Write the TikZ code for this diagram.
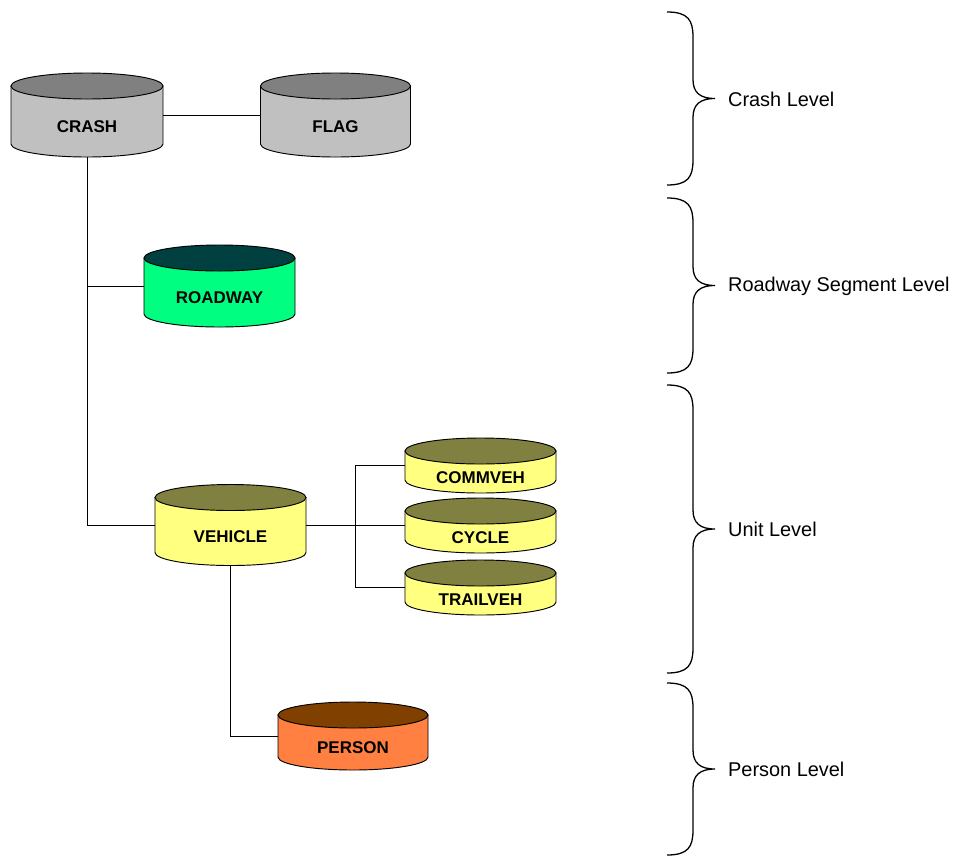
\documentclass[tikz,border=0pt]{standalone}
\usepackage{fontspec}
\setmainfont{Liberation Sans}
\usetikzlibrary{calc}

\definecolor{crashbody}{HTML}{C0C0C0}
\definecolor{crashtop}{HTML}{808080}
\definecolor{roadbody}{HTML}{00FF80}
\definecolor{roadtop}{HTML}{004040}
\definecolor{vehbody}{HTML}{FFFF80}
\definecolor{vehtop}{HTML}{808040}
\definecolor{persbody}{HTML}{FF8040}
\definecolor{perstop}{HTML}{804000}

\tikzset{
  tableline/.style={draw=black, line width=0.8pt},
  tablebox/.style={rectangle, inner sep=0pt, text height=1.07cm, text depth=0pt,
    font=\fontsize{14.5}{16}\selectfont\bfseries},
  level/.style={anchor=west, font=\fontsize{17}{19}\selectfont},
  link/.style={line width=0.8pt}
}

% table cylinder: name, x, y, width, height (pixel units), body, top, text
\newcommand{\dbtable}[8]{%
  \filldraw[tableline, fill=#6] (#2-#4/2,#3-#5/2+13) -- (#2-#4/2,#3+#5/2-13)
    arc[start angle=180, end angle=0, x radius=#4/2, y radius=13]
    -- (#2+#4/2,#3-#5/2+13) -- cycle;
  \filldraw[tableline, fill=#7] (#2,#3-#5/2+13) ellipse[x radius=#4/2, y radius=13];
  \node[tablebox, minimum width=#4*0.03cm, minimum height=#5*0.03cm] (#1) at (#2,#3) {#8};}

% curly brace from y=#1 to y=#2 (pixel units)
\newcommand{\levelbrace}[2]{%
  \draw[line width=1.1pt] (667,#1) .. controls (688,#1) and (693,#1+8) .. (693,#1+25)
    -- (693,#1/2+#2/2-19) .. controls (693,#1/2+#2/2-6) and (700,#1/2+#2/2) .. (715,#1/2+#2/2)
    .. controls (700,#1/2+#2/2) and (693,#1/2+#2/2+6) .. (693,#1/2+#2/2+19)
    -- (693,#2-25) .. controls (693,#2-8) and (688,#2) .. (667,#2);}

\begin{document}
\begin{tikzpicture}[x=0.03cm,y=-0.03cm]
\useasboundingbox (0,0) rectangle (959,857);
\dbtable{crash}{87}{115}{152}{84}{crashbody}{crashtop}{CRASH}
\dbtable{flag}{335.5}{115}{150}{84}{crashbody}{crashtop}{FLAG}
\dbtable{roadway}{219.5}{286}{151}{82}{roadbody}{roadtop}{ROADWAY}
\dbtable{vehicle}{230.5}{525}{151}{81}{vehbody}{vehtop}{VEHICLE}
\dbtable{commveh}{480.5}{465.5}{151}{55}{vehbody}{vehtop}{COMMVEH}
\dbtable{cycle}{480.5}{525.5}{151}{55}{vehbody}{vehtop}{CYCLE}
\dbtable{trailveh}{480.5}{587.5}{151}{55}{vehbody}{vehtop}{TRAILVEH}
\dbtable{person}{353}{736}{150}{68}{persbody}{perstop}{PERSON}
%
\coordinate (fork) at ($(vehicle.east)!0.5!(cycle.west)$);
\draw[link] (crash.east) -- (flag.west);
\draw[link] (crash.south) |- (roadway.west);
\draw[link] (crash.south) |- (vehicle.west);
\draw[link] (vehicle.east) -- (vehicle.east -| cycle.west);
\draw[link] (commveh.west) -| (fork) |- (trailveh.west);
\draw[link] (vehicle.south) |- (person.west);
%
\levelbrace{12}{185}
\levelbrace{198}{373}
\levelbrace{385}{673}
\levelbrace{683}{855}
\node[level] (crashlvl) at (724,99) {Crash Level};
\node[level] (roadlvl) at (724,286) {Roadway Segment Level};
\node[level] (unitlvl) at (724,529) {Unit Level};
\node[level] (perslvl) at (724,769) {Person Level};
\end{tikzpicture}
\end{document}
